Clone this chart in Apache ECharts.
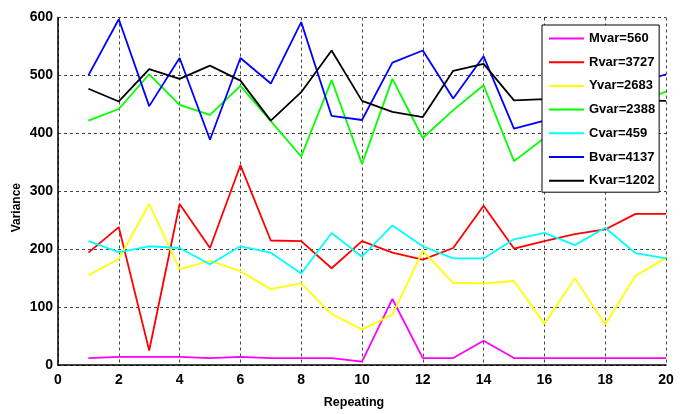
<!DOCTYPE html>
<html>
<head>
<meta charset="utf-8">
<script src="https://cdn.jsdelivr.net/npm/echarts@6/dist/echarts.min.js"></script>
<style>
html,body{margin:0;padding:0;background:#fff;}
#chart{width:683px;height:414px;}
</style>
</head>
<body>
<div id="chart"></div>
<script>
const repeats = [1,2,3,4,5,6,7,8,9,10,11,12,13,14,15,16,17,18,19,20];
const seriesNames = ['Mvar=560','Rvar=3727','Yvar=2683','Gvar=2388','Cvar=459','Bvar=4137','Kvar=1202'];
const seriesColors = ['#ff00ff','#ff0000','#ffff00','#00ff00','#00ffff','#0000ff','#000000'];
const mvar = [12,14,14,14,12,14,12,12,12,6,114,12,12,42,12,12,12,12,12,12];
const rvar = [194,238,25,278,202,345,215,214,167,214,194,182,202,275,201,214,226,234,261,261];
const yvar = [155,183,278,165,180,162,131,141,88,61,87,197,142,141,145,71,150,70,154,185];
const gvar = [422,442,502,449,432,482,421,360,492,347,494,392,440,483,352,392,412,432,452,472];
const cvar = [214,195,205,202,174,205,194,158,228,187,241,205,184,184,217,228,207,237,193,184];
const bvar = [500,597,447,530,389,530,486,592,430,423,522,543,460,533,408,422,442,462,485,502];
const kvar = [477,455,511,494,517,491,422,471,543,456,437,428,508,520,457,459,458,458,457,456];
const xTicks = [0,2,4,6,8,10,12,14,16,18,20];
const yTicks = [0,100,200,300,400,500,600];
const xTitle = 'Repeating';
const yTitle = 'Variance';

const allValues = [mvar,rvar,yvar,gvar,cvar,bvar,kvar];
const chart = echarts.init(document.getElementById('chart'), null, {renderer:'canvas'});
const tickFont = {fontFamily:'"Liberation Sans Narrow","Liberation Sans",Arial,sans-serif', fontWeight:'bold', fontSize:14, color:'#000'};
chart.setOption({
  animation:false,
  backgroundColor:'#fff',
  grid:{left:58, right:17, top:17.5, bottom:46, containLabel:false},
  legend:{
    orient:'vertical', left:542, top:25, z:50,
    data:seriesNames,
    itemWidth:35, itemHeight:14, itemGap:10.7,
    padding:[7,4,5,6],
    itemStyle:{opacity:0},
    backgroundColor:'#fff', borderColor:'#000', borderWidth:1,
    textStyle:{fontFamily:'"Liberation Sans",Arial,sans-serif', fontWeight:'bold', fontSize:13, color:'#000'}
  },
  graphic:[{
    type:'text', left:11, top:183, rotation:Math.PI/2, z:20,
    style:{text:yTitle, fill:'#000', font:'bold 12px "Liberation Sans", Arial, sans-serif', textAlign:'center', textVerticalAlign:'middle'},
    x:18, y:207
  }],
  xAxis:{
    type:'value', min:xTicks[0], max:xTicks[xTicks.length-1], interval:2,
    name:xTitle, nameLocation:'middle', nameGap:31,
    nameTextStyle:{fontFamily:'"Liberation Sans",Arial,sans-serif', fontWeight:'bold', fontSize:12.5, color:'#000', padding:[0,16,0,0]},
    axisLine:{show:true, onZero:false, lineStyle:{color:'#000', width:1.5}},
    axisTick:{show:false},
    axisLabel:Object.assign({margin:8}, tickFont),
    splitLine:{show:true, lineStyle:{color:'#444', type:[3,3], width:1}}
  },
  yAxis:{
    type:'value', min:yTicks[0], max:yTicks[yTicks.length-1], interval:100,
    axisLine:{show:true, lineStyle:{color:'#000', width:1.5}},
    axisTick:{show:false},
    axisLabel:Object.assign({margin:5}, tickFont),
    splitLine:{show:true, lineStyle:{color:'#444', type:[3,3], width:1}}
  },
  series:seriesNames.map((n,i)=>({
    name:n, type:'line', symbol:'none', showSymbol:false,
    data:repeats.map((x,j)=>[x, allValues[i][j]]),
    lineStyle:{color:seriesColors[i], width:1.8},
    itemStyle:{color:seriesColors[i]},
    z:2
  }))
});
</script>
</body>
</html>
